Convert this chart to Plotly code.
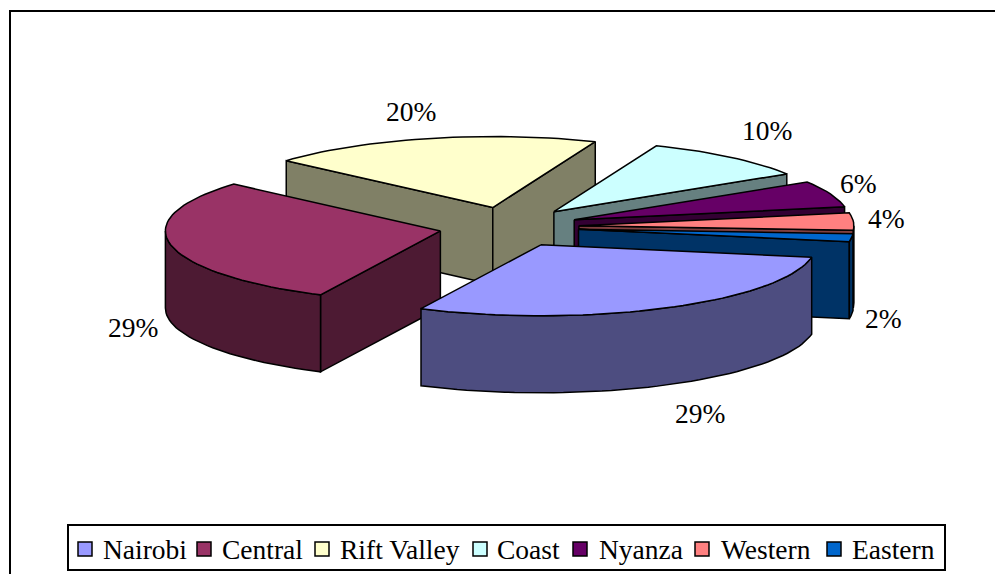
import math
import plotly.graph_objects as go

# ---- data ----
regions = ["Nairobi", "Central", "Rift Valley", "Coast", "Nyanza", "Western", "Eastern"]
shares = [29.4, 29.3, 19.6, 10.0, 6.0, 3.9, 1.8]
share_labels = ["29%", "29%", "20%", "10%", "6%", "4%", "2%"]

# ---- styles ----
top_colors = ["#9999FF", "#993366", "#FFFFCC", "#CCFFFF", "#660066", "#FF8080", "#0066CC"]
side_colors = ["#4D4D80", "#4D1A33", "#808066", "#668080", "#330033", "#804040", "#003366"]
draw_order = [2, 3, 4, 5, 6, 1, 0]
FONT = "Liberation Serif"
FS = 27.5
CX, CY = 509, 227       # pie centre (pixels)
RX, RY = 275, 71        # ellipse radii
EX, EY = 70, 20         # explosion offset
DEPTH = 77
START = 10              # first slice start angle, degrees clockwise from east
label_xy = [(700, 413), (133, 327), (411, 111), (767, 130), (858, 183), (886, 218), (883, 318)]
legend_swatch_x = [85, 204, 322, 480, 580, 702, 834]
legend_text_x = [103, 222, 340, 497, 599, 721, 852]
LEG_Y = 549

fig = go.Figure()


def poly(xs, ys, fill):
    fig.add_trace(go.Scatter(x=xs + xs[:1], y=ys + ys[:1], mode="lines", fill="toself",
                             fillcolor=fill, line=dict(color="black", width=1.5),
                             hoverinfo="skip", showlegend=False))


def arc(ax, ay, a, b):
    n = max(2, int(abs(b - a) / 2) + 1)
    th = [math.radians(a + (b - a) * i / (n - 1)) for i in range(n)]
    return [ax + RX * math.cos(t) for t in th], [ay + RY * math.sin(t) for t in th]


# slice angles come from the shares
total = sum(shares)
bounds = []
cur = START
for s in shares:
    nxt = cur + 360 * s / total
    bounds.append((cur, nxt))
    cur = nxt

for i in draw_order:
    a, b = bounds[i]
    mid = math.radians((a + b) / 2)
    ax = CX + EX * math.cos(mid)
    ay = CY + EY * math.sin(mid)
    ra, rb = math.radians(a), math.radians(b)
    # radial walls facing the viewer
    if math.cos(ra) < 0:
        px, py = ax + RX * math.cos(ra), ay + RY * math.sin(ra)
        poly([ax, px, px, ax], [ay, py, py + DEPTH, ay + DEPTH], side_colors[i])
    if math.cos(rb) > 0:
        px, py = ax + RX * math.cos(rb), ay + RY * math.sin(rb)
        poly([ax, px, px, ax], [ay, py, py + DEPTH, ay + DEPTH], side_colors[i])
    # outer wall: the front half of the rim only
    for k in (0, 1):
        lo = max(a, k * 360)
        hi = min(b, 180 + k * 360)
        if hi > lo:
            xs, ys = arc(ax, ay, lo, hi)
            poly(xs + xs[::-1], ys + [y + DEPTH for y in ys[::-1]], side_colors[i])
    # top face
    xs, ys = arc(ax, ay, a, b)
    poly([ax] + xs, [ay] + ys, top_colors[i])

# legend swatches
for i, name in enumerate(regions):
    fig.add_trace(go.Scatter(x=[legend_swatch_x[i]], y=[LEG_Y], mode="markers", name=name,
                             marker=dict(symbol="square", size=14, color=top_colors[i],
                                         line=dict(color="black", width=1.5)),
                             hoverinfo="skip", showlegend=False))

annotations = []
for (x, y), t in zip(label_xy, share_labels):
    annotations.append(dict(x=x, y=y, text=t, showarrow=False, xanchor="center", yanchor="middle",
                            font=dict(family=FONT, size=FS, color="black")))
for x, t in zip(legend_text_x, regions):
    annotations.append(dict(x=x, y=LEG_Y, text=t, showarrow=False, xanchor="left", yanchor="middle",
                            xshift=-2, font=dict(family=FONT, size=FS, color="black")))

shapes = [
    dict(type="rect", x0=10, y0=11, x1=1010, y1=600, line=dict(color="black", width=2), layer="below"),
    dict(type="rect", x0=68, y0=525, x1=945, y1=570, line=dict(color="black", width=2),
         fillcolor="white", layer="below"),
]

fig.update_layout(
    width=995, height=574, margin=dict(l=0, r=0, t=0, b=0),
    paper_bgcolor="white", plot_bgcolor="white", showlegend=False,
    xaxis=dict(range=[0, 995], visible=False, fixedrange=True),
    yaxis=dict(range=[574, 0], visible=False, fixedrange=True),
    annotations=annotations, shapes=shapes,
)
fig.write_html("out.html", config={"displayModeBar": False},
               post_script="document.body.style.margin='0';document.body.style.overflow='hidden';")
